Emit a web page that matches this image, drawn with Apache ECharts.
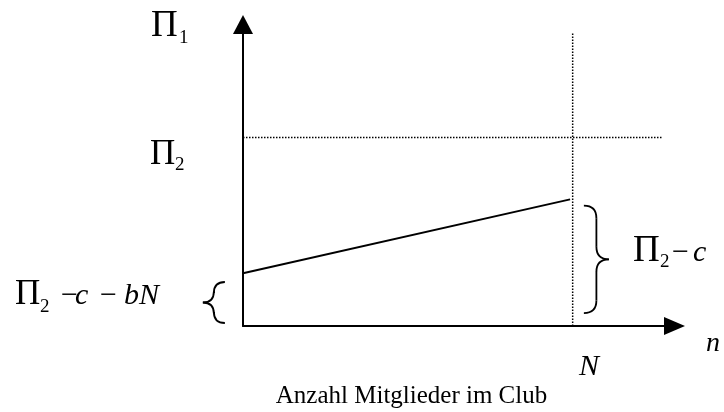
<!DOCTYPE html>
<html>
<head>
<meta charset="utf-8">
<script src="https://cdn.jsdelivr.net/npm/echarts@6/dist/echarts.min.js"></script>
<style>
  html, body { margin: 0; padding: 0; background: #fff; }
  #chart { width: 724px; height: 412px; }
</style>
</head>
<body>
<div id="chart"></div>
<script>
// ---- data (axis units: x 0..100, y 0..100) ----
const memberCount = [0, 75.8];          // n from 0 to N
const payoffClub = [17.5, 42.0];        // Π1 rising line
const N_VALUE = 76.4;                   // position of N
const PI2_LEVEL = 62.5;                 // Π2 level
const pi2LineX = [0, 97.1];             // horizontal dotted extent
const nLineY = [0, 97.5];               // vertical dotted extent
// braces: [xStart, xTip, yTop, yBottom]
const braceRight = [79.0, 84.8, 39.9, 4.3];
const braceLeft = [-4.2, -9.3, 14.6, 1.0];
const xTitle = 'Anzahl Mitglieder im Club';

const SERIF = '"Liberation Serif", "Times New Roman", serif';

function lbl(x, baseline, text, size, italic, align) {
  return {
    type: 'text',
    silent: true,
    style: {
      x: x,
      y: baseline - 0.32 * size,
      text: text,
      font: (italic ? 'italic ' : '') + size + 'px ' + SERIF,
      fill: '#000',
      textAlign: align || 'left',
      textVerticalAlign: 'middle'
    }
  };
}

const chart = echarts.init(document.getElementById('chart'), null, { renderer: 'canvas' });

function braceItem(params, api) {
  const s = api.coord([api.value(0), api.value(2)]);
  const tipPt = api.coord([api.value(1), api.value(2)]);
  const bPt = api.coord([api.value(0), api.value(3)]);
  const xs = s[0], xt = tipPt[0], t = s[1], b = bPt[1];
  const xm = (xs + xt) / 2, m = (t + b) / 2, r = Math.abs(xt - xs) / 2;
  const st = { stroke: '#000', lineWidth: 1.8, fill: null };
  return {
    type: 'group',
    children: [
      { type: 'bezierCurve', shape: { x1: xs, y1: t, cpx1: xm, cpy1: t, x2: xm, y2: t + r }, style: st },
      { type: 'line', shape: { x1: xm, y1: t + r, x2: xm, y2: m - r }, style: st },
      { type: 'bezierCurve', shape: { x1: xm, y1: m - r, cpx1: xm, cpy1: m, x2: xt, y2: m }, style: st },
      { type: 'bezierCurve', shape: { x1: xt, y1: m, cpx1: xm, cpy1: m, x2: xm, y2: m + r }, style: st },
      { type: 'line', shape: { x1: xm, y1: m + r, x2: xm, y2: b - r }, style: st },
      { type: 'bezierCurve', shape: { x1: xm, y1: b - r, cpx1: xm, cpy1: b, x2: xs, y2: b }, style: st }
    ]
  };
}

const axisCommon = {
  type: 'value',
  min: 0,
  max: 100,
  axisTick: { show: false },
  axisLabel: { show: false },
  splitLine: { show: false }
};

chart.setOption({
  animation: false,
  backgroundColor: '#fff',
  grid: { left: 243, right: 49.5, top: 24.5, bottom: 86, containLabel: false },
  xAxis: Object.assign({}, axisCommon, {
    axisLine: { show: true, onZero: false, symbol: ['none', 'triangle'], symbolSize: [18, 21],
      lineStyle: { color: '#000', width: 2 } }
  }),
  yAxis: Object.assign({}, axisCommon, {
    axisLine: { show: true, onZero: false, symbol: ['none', 'triangle'], symbolSize: [20, 19],
      lineStyle: { color: '#000', width: 2 } }
  }),
  series: [
    {
      type: 'line', silent: true, symbol: 'none', z: 1,
      data: pi2LineX.map(x => [x, PI2_LEVEL]),
      lineStyle: { color: '#000', width: 1.5, type: [1.5, 1.5] }
    },
    {
      type: 'line', silent: true, symbol: 'none', z: 1,
      data: nLineY.map(y => [N_VALUE, y]),
      lineStyle: { color: '#000', width: 1.5, type: [1.5, 1.5] }
    },
    {
      type: 'line', silent: true, symbol: 'none', z: 2,
      data: memberCount.map((x, i) => [x, payoffClub[i]]),
      lineStyle: { color: '#000', width: 2 }
    },
    {
      type: 'custom', silent: true, clip: false, z: 3,
      renderItem: braceItem,
      data: [braceRight, braceLeft]
    }
  ],
  graphic: [
    lbl(151, 38, 'Π', 37), lbl(179, 44, '1', 19),
    lbl(150, 166, 'Π', 35), lbl(175, 171, '2', 19),
    lbl(15, 306, 'Π', 35), lbl(40, 313, '2', 19),
    lbl(61, 306, '−', 30), lbl(75, 306, 'c', 30, true),
    lbl(100, 306, '−', 30), lbl(124, 306, 'bN', 30, true),
    lbl(633, 263, 'Π', 37), lbl(660, 268, '2', 19),
    lbl(672, 263, '−', 30), lbl(693, 263, 'c', 30, true),
    lbl(579, 377, 'N', 30, true),
    lbl(706, 353, 'n', 28, true),
    lbl(411.5, 404, xTitle, 25, false, 'center')
  ]
});
</script>
</body>
</html>
